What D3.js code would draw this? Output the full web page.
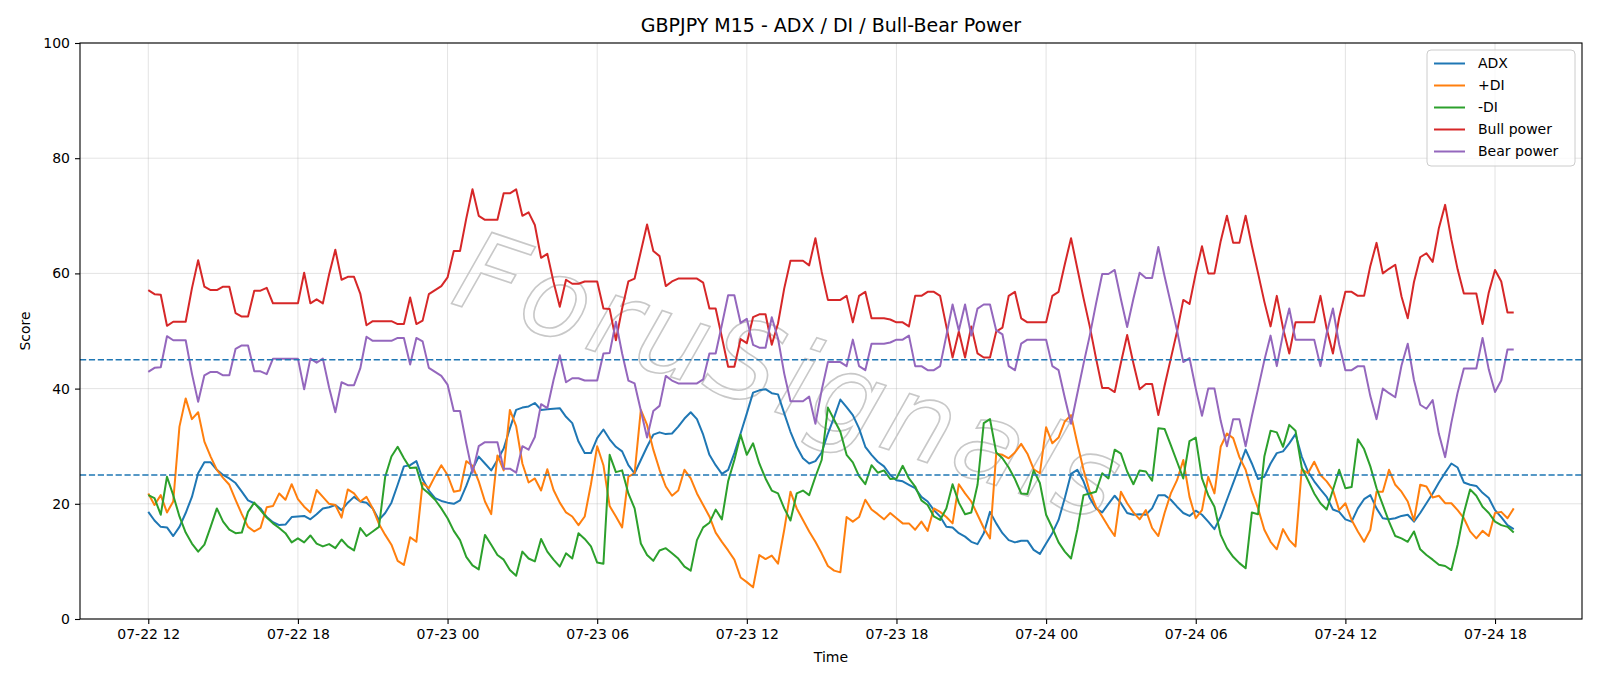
<!DOCTYPE html>
<html>
<head>
<meta charset="utf-8">
<script src="https://cdn.jsdelivr.net/npm/d3@7"></script>
<style>
  body { margin: 0; background: #fff; }
  svg text { font-family: "DejaVu Sans", sans-serif; }
</style>
</head>
<body>
<svg id="chart" width="1600" height="686"></svg>
<script>
// GBPJPY M15 bars, 07-22 12:00 -> 07-24 18:45
var startTime = Date.UTC(2025, 6, 22, 12, 0);
var stepMinutes = 15;

var adx = [
  18.6,17.1,16.0,15.9,14.4,16.0,18.4,21.2,25.3,27.2,27.2,25.9,25.0,24.4,23.6,22.1,20.6,20.1,19.2,17.7,16.8,16.3,16.4,17.7,17.8,17.9,17.3,18.2,19.2,19.4,19.8,18.9,20.2,21.2,20.4,20.2,19.2,17.2,
  18.4,20.2,23.3,26.5,26.7,27.4,24.3,22.3,21.0,20.5,20.2,20.0,20.6,23.1,26.0,28.2,27.0,25.8,27.6,29.6,33.1,36.3,36.7,36.9,37.5,36.3,36.4,36.5,36.6,35.1,34.0,30.8,28.8,28.8,31.4,32.9,
  31.2,29.9,29.1,26.7,25.3,27.6,29.9,32.0,32.4,32.1,32.2,33.4,34.8,35.9,34.7,32.0,28.5,26.7,25.2,25.9,28.8,32.2,35.7,39.3,39.7,39.9,39.2,39.0,35.7,32.5,29.9,27.9,27.0,27.4,28.9,32.2,35.0,
  38.1,36.8,35.4,33.1,29.9,28.5,27.3,26.5,25.0,24.1,23.9,23.3,22.7,21.2,20.4,18.9,17.8,16.0,15.9,14.9,14.3,13.4,13.0,14.9,18.6,16.6,14.9,13.7,13.3,13.6,13.6,12.0,11.3,13.1,14.9,17.2,21.0,
  25.2,25.9,23.9,21.0,19.2,18.5,20.0,21.4,20.1,18.4,18.1,18.2,18.1,19.2,21.5,21.5,20.7,19.5,18.4,17.9,18.8,18.1,16.9,15.6,17.8,20.7,23.6,26.5,29.4,27.0,24.3,24.7,27.0,28.8,29.1,30.5,32.1,
  28.2,25.6,23.9,22.5,21.2,19.0,18.6,17.3,16.9,19.2,20.8,21.5,19.2,17.5,17.3,17.5,17.9,18.1,16.9,18.4,20.1,21.8,23.7,25.4,27.0,26.3,23.7,23.3,23.1,21.9,21.0,18.9,17.7,16.3,15.6
];

var plusDI = [
  21.8,19.8,21.5,18.5,20.4,33.4,38.3,34.7,35.9,30.8,28.2,25.9,24.5,23.3,20.7,18.2,16.0,15.2,15.8,19.4,19.6,21.8,20.7,23.4,20.8,19.5,18.5,22.4,21.2,20.0,19.8,17.6,22.5,21.8,20.4,21.2,19.2,16.5,
  14.6,12.9,10.1,9.4,14.2,13.4,23.6,22.7,24.8,26.7,25.0,22.1,22.3,27.4,26.6,23.9,20.4,18.2,28.4,25.8,36.3,33.5,27.0,23.7,24.4,22.3,26.0,22.4,20.2,18.5,17.8,16.3,17.8,23.4,30.0,26.7,
  19.6,17.8,15.9,24.7,25.3,36.3,33.7,29.4,25.9,23.0,21.4,22.3,25.9,24.4,21.8,19.8,17.8,15.0,13.4,11.9,10.3,7.2,6.4,5.5,11.1,10.4,11.0,9.6,15.5,22.1,19.2,17.2,15.2,13.4,11.4,9.2,8.4,
  8.1,17.7,16.9,17.7,20.7,19.0,18.2,17.3,18.4,17.5,16.6,16.6,15.5,16.9,15.3,19.2,18.6,17.7,16.6,23.4,21.8,20.4,18.1,15.8,14.0,28.7,28.5,27.9,28.9,30.4,28.7,26.0,25.3,33.3,30.5,31.5,34.3,
  35.4,30.5,25.9,22.1,19.5,17.8,16.0,14.4,22.1,20.1,18.5,17.3,18.9,15.8,14.4,18.4,21.8,24.1,27.6,21.2,17.5,18.9,24.7,21.8,29.9,32.2,31.4,28.1,25.9,22.1,19.2,15.5,13.4,12.1,15.6,13.7,12.6,
  26.0,25.3,27.3,25.0,23.9,22.4,18.9,20.1,17.2,15.2,13.4,15.5,22.1,22.1,25.9,23.3,22.1,20.4,17.1,23.3,23.0,21.1,21.4,20.1,20.1,18.9,17.5,15.2,14.0,15.3,14.4,18.4,18.6,17.5,19.2
];

var minusDI = [
  21.5,21.0,18.1,24.7,21.5,17.8,15.0,13.1,11.7,12.9,16.0,19.2,16.9,15.5,14.9,15.0,18.6,20.2,18.9,17.6,16.6,15.8,14.9,13.3,14.0,13.3,14.5,13.1,12.6,13.0,12.3,13.8,12.6,11.9,15.8,14.4,15.2,16.0,
  24.7,28.2,29.9,27.9,26.2,26.3,22.7,21.8,20.7,19.2,17.5,15.3,13.7,10.8,9.3,8.6,14.6,12.9,11.1,10.3,8.5,7.5,11.7,10.5,10.0,13.9,11.7,10.3,9.1,11.4,10.5,14.9,13.9,12.6,9.8,9.6,
  28.5,25.5,25.8,21.8,19.2,13.1,11.1,10.1,11.9,12.3,11.4,10.5,9.1,8.4,13.7,15.9,16.7,19.0,17.3,23.9,27.6,32.0,28.5,30.5,27.0,24.4,22.3,21.8,19.2,17.1,21.8,22.3,21.5,24.7,27.6,36.7,34.6,
  32.5,28.5,27.2,24.8,23.4,26.7,25.4,25.8,24.3,24.4,26.6,24.4,23.0,20.6,19.8,17.8,17.2,19.2,23.4,20.2,18.2,18.5,23.3,34.0,34.7,28.9,27.9,26.3,24.3,21.8,21.7,25.8,23.6,18.1,15.8,13.3,11.7,
  10.5,15.5,21.5,21.8,22.1,25.3,24.4,29.4,28.7,25.6,23.4,25.8,25.6,24.0,33.1,33.0,30.2,27.3,24.4,30.9,31.5,24.4,21.5,19.5,14.6,12.3,10.8,9.7,8.8,18.5,18.2,28.2,32.7,32.4,29.9,33.7,32.7,
  26.3,24.1,21.8,20.1,19.0,22.4,25.9,22.7,22.9,31.2,29.5,26.5,22.7,19.8,16.9,14.4,14.0,13.4,15.2,12.1,11.1,10.3,9.4,9.2,8.5,12.9,18.4,22.5,21.4,19.5,18.4,16.9,16.3,16.0,15.0
];

var bullPower = [
  57.1,56.4,56.3,50.9,51.6,51.6,51.6,57.4,62.3,57.7,57.1,57.1,57.7,57.7,53.1,52.5,52.5,57.0,57.0,57.5,54.8,54.8,54.8,54.8,54.8,60.1,54.8,55.5,54.8,59.8,64.1,58.9,59.4,59.4,56.5,51.0,51.7,51.7,
  51.7,51.7,51.2,51.2,55.8,51.2,51.8,56.4,57.1,57.8,59.3,63.9,63.9,69.5,74.6,70.0,69.3,69.3,69.3,73.9,73.9,74.6,70.0,70.6,68.4,62.7,63.4,58.5,54.2,58.9,58.2,58.2,58.6,58.6,58.6,53.9,
  53.8,48.4,53.9,58.6,59.1,63.8,68.5,63.9,63.0,57.8,58.6,59.1,59.1,59.1,59.1,58.4,53.9,53.9,48.9,43.8,43.8,48.6,47.9,52.4,52.9,52.9,47.6,51.3,57.4,62.2,62.2,62.2,61.4,66.1,60.3,55.4,55.4,
  55.4,56.1,51.5,56.1,56.8,52.2,52.2,52.2,52.0,51.5,51.5,50.8,56.1,56.1,56.8,56.8,56.1,50.8,45.4,49.9,45.4,50.8,46.1,45.4,45.4,49.9,50.6,56.1,56.8,52.2,51.5,51.5,51.5,51.5,56.1,56.8,61.6,
  66.1,60.9,55.7,50.8,45.3,40.1,40.1,39.4,44.5,49.3,44.4,39.9,40.8,40.8,35.4,40.5,45.2,49.9,55.4,54.7,60.0,64.7,60.0,60.0,65.6,70.0,65.3,65.3,70.0,64.8,60.0,55.1,50.8,56.1,50.5,46.1,51.5,
  51.5,51.5,51.5,56.1,50.4,46.1,52.3,56.8,56.8,56.1,56.1,61.3,65.3,60.0,60.8,61.5,56.0,52.2,58.5,62.8,63.5,62.0,67.9,71.9,65.9,60.7,56.5,56.5,56.5,51.2,56.7,60.6,58.6,53.2,53.2
];

var bearPower = [
  42.9,43.6,43.7,49.1,48.4,48.4,48.4,42.6,37.7,42.3,42.9,42.9,42.3,42.3,46.9,47.5,47.5,43.0,43.0,42.5,45.2,45.2,45.2,45.2,45.2,39.9,45.2,44.5,45.2,40.2,35.9,41.1,40.6,40.6,43.5,49.0,48.3,48.3,
  48.3,48.3,48.8,48.8,44.2,48.8,48.2,43.6,42.9,42.2,40.7,36.1,36.1,30.5,25.4,30.0,30.7,30.7,30.7,26.1,26.1,25.4,30.0,29.4,31.6,37.3,36.6,41.5,45.8,41.1,41.8,41.8,41.4,41.4,41.4,46.1,
  46.2,51.6,46.1,41.4,40.9,36.2,31.5,36.1,37.0,42.2,41.4,40.9,40.9,40.9,40.9,41.6,46.1,46.1,51.1,56.2,56.2,51.4,52.1,47.6,47.1,47.1,52.4,48.7,42.6,37.8,37.8,37.8,38.6,33.9,39.7,44.6,44.6,
  44.6,43.9,48.5,43.9,43.2,47.8,47.8,47.8,48.0,48.5,48.5,49.2,43.9,43.9,43.2,43.2,43.9,49.2,54.6,50.1,54.6,49.2,53.9,54.6,54.6,50.1,49.4,43.9,43.2,47.8,48.5,48.5,48.5,48.5,43.9,43.2,38.4,
  33.9,39.1,44.3,49.2,54.7,59.9,59.9,60.6,55.5,50.7,55.6,60.1,59.2,59.2,64.6,59.5,54.8,50.1,44.6,45.3,40.0,35.3,40.0,40.0,34.4,30.0,34.7,34.7,30.0,35.2,40.0,44.9,49.2,43.9,49.5,53.9,48.5,
  48.5,48.5,48.5,43.9,49.6,53.9,47.7,43.2,43.2,43.9,43.9,38.7,34.7,40.0,39.2,38.5,44.0,47.8,41.5,37.2,36.5,38.0,32.1,28.1,34.1,39.3,43.5,43.5,43.5,48.8,43.3,39.4,41.4,46.8,46.8
];

var seriesNames = ["ADX", "+DI", "-DI", "Bull power", "Bear power"];
var seriesColors = ["#1f77b4", "#ff7f0e", "#2ca02c", "#d62728", "#9467bd"];
var levels = [25, 45];
var yTicks = [0, 20, 40, 60, 80, 100];

var times = adx.map(function(d, i) { return new Date(startTime + i * stepMinutes * 60000); });
var allSeries = [adx, plusDI, minusDI, bullPower, bearPower];

var svg = d3.select("#chart");
var plot = { left: 80, right: 1582, top: 43, bottom: 619 };

// matplotlib style 5% x margin
var t0 = times[0], t1 = times[times.length - 1];
var pad = (t1 - t0) * 0.05;
var x = d3.scaleUtc()
    .domain([new Date(+t0 - pad), new Date(+t1 + pad)])
    .range([plot.left, plot.right]);
var y = d3.scaleLinear().domain([0, 100]).range([plot.bottom, plot.top]);

var xTicks = x.ticks(d3.utcHour.every(6));

// grid
var grid = svg.append("g").attr("class", "grid");
grid.selectAll("line.gx").data(xTicks).enter().append("line")
    .attr("x1", function(d) { return x(d); }).attr("x2", function(d) { return x(d); })
    .attr("y1", plot.top).attr("y2", plot.bottom)
    .attr("stroke", "#b0b0b0").attr("stroke-opacity", 0.35).attr("stroke-width", 1);
grid.selectAll("line.gy").data(yTicks).enter().append("line")
    .attr("x1", plot.left).attr("x2", plot.right)
    .attr("y1", function(d) { return y(d); }).attr("y2", function(d) { return y(d); })
    .attr("stroke", "#b0b0b0").attr("stroke-opacity", 0.35).attr("stroke-width", 1);

// watermark
svg.append("text")
    .attr("transform", "translate(788,376) rotate(18.5)")
    .attr("text-anchor", "middle")
    .attr("dominant-baseline", "central")
    .attr("font-size", 110)
    .attr("font-style", "italic")
    .attr("font-weight", 300)
    .attr("textLength", 690)
    .attr("lengthAdjust", "spacing")
    .attr("fill", "none")
    .attr("stroke", "#c8c8c8")
    .attr("stroke-width", 1.6)
    .text("ForuSignals");

// series
var line = d3.line()
    .x(function(d, i) { return x(times[i]); })
    .y(function(d) { return y(d); });

svg.append("g").selectAll("path").data(allSeries).enter().append("path")
    .attr("d", line)
    .attr("fill", "none")
    .attr("stroke", function(d, i) { return seriesColors[i]; })
    .attr("stroke-width", 2)
    .attr("stroke-linejoin", "round");

// level lines
svg.append("g").selectAll("line").data(levels).enter().append("line")
    .attr("x1", plot.left).attr("x2", plot.right)
    .attr("y1", function(d) { return y(d); }).attr("y2", function(d) { return y(d); })
    .attr("stroke", "#1f77b4").attr("stroke-width", 1.6)
    .attr("stroke-dasharray", "6.2,2.7");

// axes
var xAxis = d3.axisBottom(x).tickValues(xTicks).tickFormat(d3.utcFormat("%m-%d %H"))
    .tickSize(5).tickPadding(5);
var gx = svg.append("g")
    .attr("transform", "translate(0," + plot.bottom + ")")
    .call(xAxis);
var yAxis = d3.axisLeft(y).tickValues(yTicks).tickSize(5).tickPadding(5);
var gy = svg.append("g")
    .attr("transform", "translate(" + plot.left + ",0)")
    .call(yAxis);
[gx, gy].forEach(function(g) {
    g.select(".domain").remove();
    g.selectAll(".tick line").attr("stroke", "#000").attr("stroke-width", 1.1);
    g.selectAll(".tick text").attr("fill", "#000").attr("font-size", 14)
        .attr("font-family", "DejaVu Sans");
});

// frame
svg.append("rect")
    .attr("x", plot.left).attr("y", plot.top)
    .attr("width", plot.right - plot.left).attr("height", plot.bottom - plot.top)
    .attr("fill", "none").attr("stroke", "#000").attr("stroke-width", 1.1);

// labels
svg.append("text")
    .attr("x", (plot.left + plot.right) / 2).attr("y", 32)
    .attr("text-anchor", "middle").attr("font-size", 19)
    .text("GBPJPY M15 - ADX / DI / Bull-Bear Power");
svg.append("text")
    .attr("x", (plot.left + plot.right) / 2).attr("y", 662)
    .attr("text-anchor", "middle").attr("font-size", 14)
    .text("Time");
svg.append("text")
    .attr("transform", "translate(30," + ((plot.top + plot.bottom) / 2) + ") rotate(-90)")
    .attr("text-anchor", "middle").attr("font-size", 14)
    .text("Score");

// legend
var legend = svg.append("g").attr("transform", "translate(1427,50)");
legend.append("rect")
    .attr("width", 148).attr("height", 116).attr("rx", 4)
    .attr("fill", "#fff").attr("fill-opacity", 0.8)
    .attr("stroke", "#cccccc").attr("stroke-width", 1);
var items = legend.selectAll("g.item").data(seriesNames).enter().append("g")
    .attr("transform", function(d, i) { return "translate(0," + (13.5 + i * 22) + ")"; });
items.append("line")
    .attr("x1", 7).attr("x2", 38)
    .attr("stroke", function(d, i) { return seriesColors[i]; })
    .attr("stroke-width", 2);
items.append("text")
    .attr("x", 51).attr("dy", "0.35em")
    .attr("font-size", 14)
    .text(function(d) { return d; });
</script>
</body>
</html>
